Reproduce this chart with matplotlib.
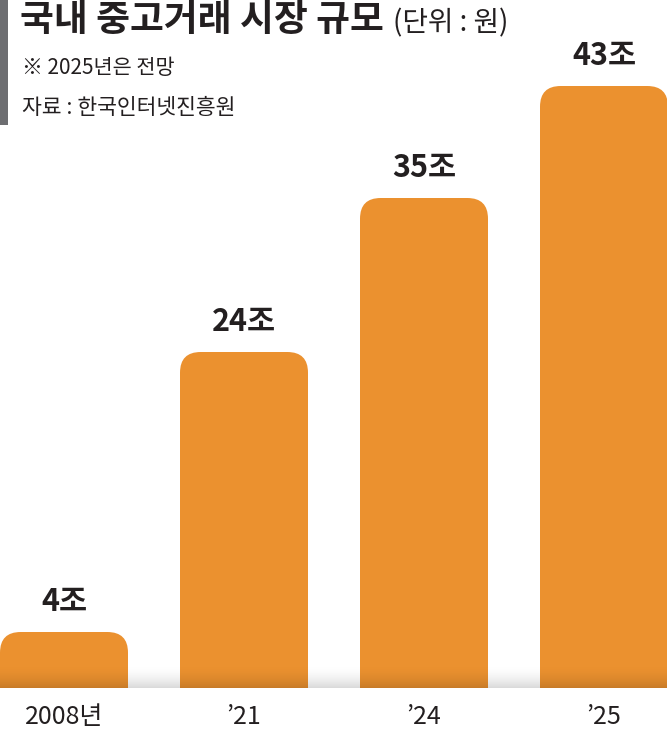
import matplotlib
matplotlib.use("Agg")
import matplotlib.pyplot as plt
from matplotlib.patches import FancyBboxPatch, Rectangle
import numpy as np

plt.rcParams["font.family"] = ["Noto Sans CJK KR", "DejaVu Sans"]

years = ["2008년", "’21", "’24", "’25"]
values = [4, 24, 35, 43]
value_labels = ["4조", "24조", "35조", "43조"]

ORANGE = "#eb912f"
INK = "#231f20"

W, H = 667, 750
fig = plt.figure(figsize=(W / 100, H / 100), dpi=100)
fig.patch.set_facecolor("white")

# plot area: full width, from top of figure down to the baseline at y=688px
base_px = 688
px_per_unit = 14.0
step_px = 180.0
ax = fig.add_axes([0, (H - base_px) / H, 1, base_px / H])
ax.set_xlim(-64 / step_px, (W - 64) / step_px)
ax.set_ylim(0, base_px / px_per_unit)
ax.axis("off")

bw = 128 / step_px
aspect = step_px / px_per_unit
for i, v in enumerate(values):
    p = FancyBboxPatch((i - bw / 2, -3), bw, v + 3,
                       boxstyle="round,pad=0,rounding_size=0.115",
                       mutation_aspect=aspect, fc=ORANGE, ec="none", zorder=2)
    ax.add_patch(p)
    ax.text(i, v + 1.0, value_labels[i], ha="center", va="bottom",
            fontsize=22, fontweight="bold", color=INK, zorder=4)

# soft ground shadow at the bottom of the bars (darker toward the baseline)
grad = np.linspace(0, 1, 64).reshape(-1, 1) ** 1.8
rgba = np.zeros((64, 1, 4))
rgba[..., 3] = grad * 0.15
ax.imshow(rgba, extent=[ax.get_xlim()[0], ax.get_xlim()[1], 0, 24 / px_per_unit],
          aspect="auto", zorder=3, interpolation="bilinear")

# x labels below the plot
for i, y in enumerate(years):
    fig.text((64 + i * step_px) / W, 1 - 717 / H, y, ha="center", va="center",
             fontsize=18, color=INK)

# header block
fig.add_artist(Rectangle((0, 1 - 125 / H), 8 / W, 125 / H, transform=fig.transFigure,
                         fc="#6d6e71", ec="none"))
fig.text(20 / W, 1 - 21 / H, "국내 중고거래 시장 규모", ha="left", va="center",
         fontsize=26.5, fontweight="bold", color=INK)
fig.text(393 / W, 1 - 23 / H, "(단위 : 원)", ha="left", va="center",
         fontsize=20, color=INK)
fig.text(22 / W, 1 - 68 / H, "※ 2025년은 전망", ha="left", va="center",
         fontsize=15, color=INK)
fig.text(22 / W, 1 - 108 / H, "자료 : 한국인터넷진흥원", ha="left", va="center",
         fontsize=15.5, color=INK)

fig.savefig("out.png", dpi=100)
